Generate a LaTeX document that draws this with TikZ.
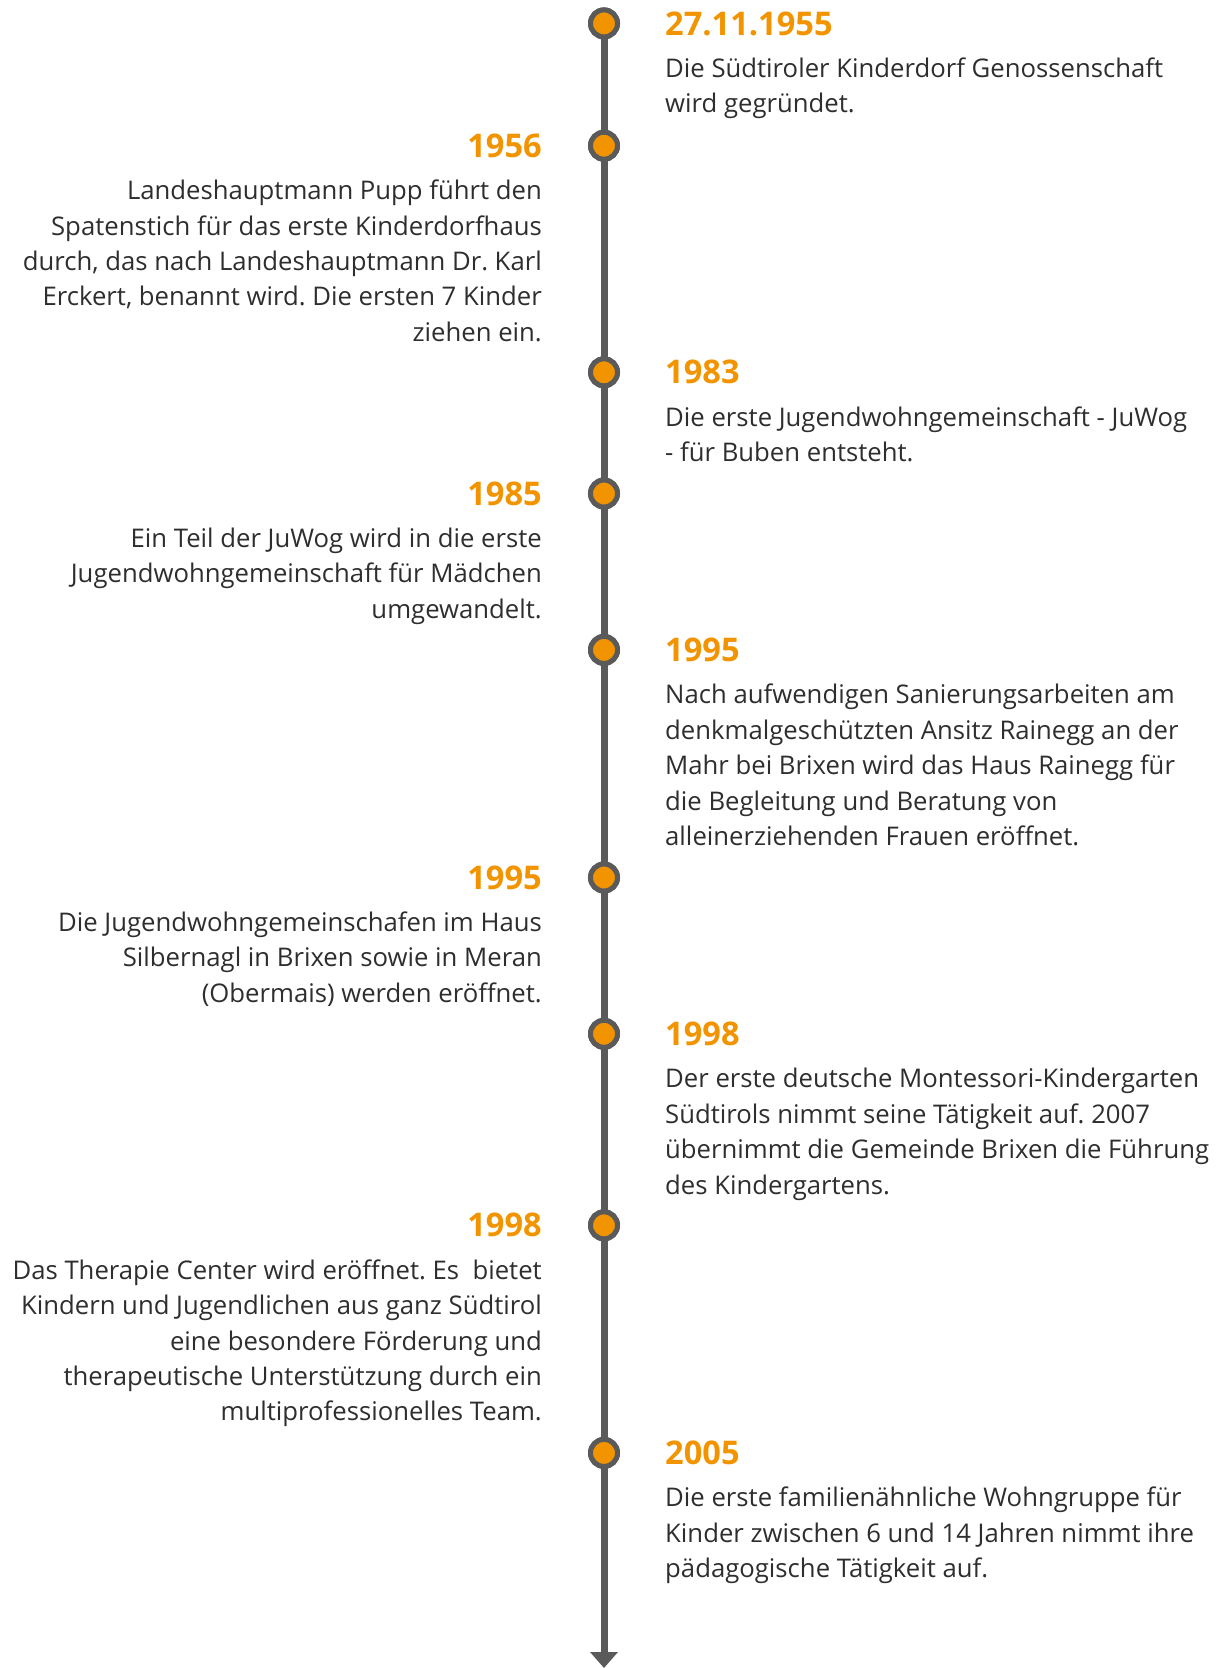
\documentclass[tikz,border=0pt]{standalone}
\usepackage{fontspec}
\setmainfont{Open Sans}
\usetikzlibrary{arrows.meta}
\definecolor{tlorange}{HTML}{F29400}
\definecolor{tlgray}{HTML}{5A5A5A}
\definecolor{tltext}{HTML}{2E2E2E}
\frenchspacing
\newcommand{\bodyR}[1]{\parbox[t]{600pt}{\raggedright\fontsize{25.7}{35.4}\selectfont #1}}
\newcommand{\bodyL}[1]{\parbox[t]{600pt}{\raggedleft\fontsize{25.7}{35.4}\selectfont #1}}
\tikzset{
  dot/.style={circle, minimum size=27pt, inner sep=0pt, line width=5pt, draw=tlgray, fill=tlorange},
  yearR/.style={anchor=base west, inner sep=0pt, text=tlorange, font=\fontsize{32.6}{34}\selectfont\bfseries},
  yearL/.style={anchor=base east, inner sep=0pt, text=tlorange, font=\fontsize{32.6}{34}\selectfont\bfseries},
  txtR/.style={anchor=base west, inner sep=0pt, text=tltext},
  txtL/.style={anchor=base east, inner sep=0pt, text=tltext},
  axis/.style={draw=tlgray, line width=7pt, -{Triangle[width=27pt,length=16pt]}}
}
\begin{document}
\begin{tikzpicture}[x=1pt,y=-1pt]
\useasboundingbox (0,0) rectangle (1221,1668);
\coordinate (end) at (604,1668);
\node[dot] (d1) at (604,23.4) {};
\node[dot] (d2) at (604,145.7) {};
\node[dot] (d3) at (604,372.3) {};
\node[dot] (d4) at (604,493.5) {};
\node[dot] (d5) at (604,649.9) {};
\node[dot] (d6) at (604,877.5) {};
\node[dot] (d7) at (604,1033.8) {};
\node[dot] (d8) at (604,1225.3) {};
\node[dot] (d9) at (604,1452.9) {};
\path[axis] (d1.center) -- (end);
\foreach \i in {1,...,9} {\node[dot] at (d\i) {};}
% right items
\node[yearR] (y1) at (665,35) {27.11.1955};
\node[txtR] (t1) at (665,77.4) {\bodyR{Die Südtiroler Kinderdorf Genossenschaft\\wird gegründet.}};
\node[yearR] (y3) at (665,383.9) {1983};
\node[txtR] (t3) at (665,426.3) {\bodyR{Die erste Jugendwohngemeinschaft - JuWog\\- für Buben entsteht.}};
\node[yearR] (y5) at (665,661.5) {1995};
\node[txtR] (t5) at (665,703.9) {\bodyR{Nach aufwendigen Sanierungsarbeiten am\\denkmalgeschützten Ansitz Rainegg an der\\Mahr bei Brixen wird das Haus Rainegg für\\die Begleitung und Beratung von\\alleinerziehenden Frauen eröffnet.}};
\node[yearR] (y7) at (665,1045.4) {1998};
\node[txtR] (t7) at (665,1087.8) {\bodyR{Der erste deutsche Montessori-Kindergarten\\Südtirols nimmt seine Tätigkeit auf. 2007\\übernimmt die Gemeinde Brixen die Führung\\des Kindergartens.}};
\node[yearR] (y9) at (665,1464.5) {2005};
\node[txtR] (t9) at (665,1506.9) {\bodyR{Die erste familienähnliche Wohngruppe für\\Kinder zwischen 6 und 14 Jahren nimmt ihre\\pädagogische Tätigkeit auf.}};
% left items
\node[yearL] (y2) at (542,157.3) {1956};
\node[txtL] (t2) at (542,199.7) {\bodyL{Landeshauptmann Pupp führt den\\Spatenstich für das erste Kinderdorfhaus\\durch, das nach Landeshauptmann Dr. Karl\\Erckert, benannt wird. Die ersten 7 Kinder\\ziehen ein.}};
\node[yearL] (y4) at (542,505.1) {1985};
\node[txtL] (t4) at (542,547.5) {\bodyL{Ein Teil der JuWog wird in die erste\\Jugendwohngemeinschaft für Mädchen\\umgewandelt.}};
\node[yearL] (y6) at (542,889.1) {1995};
\node[txtL] (t6) at (542,931.5) {\bodyL{Die Jugendwohngemeinschafen im Haus\\Silbernagl in Brixen sowie in Meran\\(Obermais) werden eröffnet.}};
\node[yearL] (y8) at (542,1236.9) {1998};
\node[txtL] (t8) at (542,1279.3) {\bodyL{Das Therapie Center wird eröffnet. Es~ bietet\\Kindern und Jugendlichen aus ganz Südtirol\\eine besondere Förderung und\\therapeutische Unterstützung durch ein\\multiprofessionelles Team.}};
\end{tikzpicture}
\end{document}
